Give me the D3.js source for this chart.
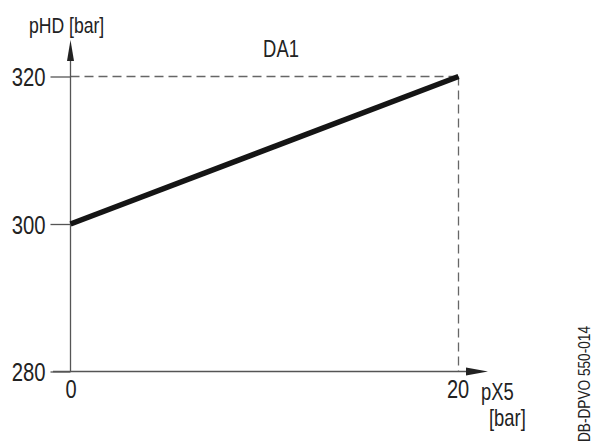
<!DOCTYPE html>
<html><head><meta charset="utf-8">
<script src="https://d3js.org/d3.v7.min.js"></script>
<style>
html,body{margin:0;padding:0;background:#fff;}
svg{display:block;}
text{font-family:"Liberation Sans",Arial,sans-serif;fill:#222;}
</style></head>
<body><svg id="c" width="595" height="446"></svg>
<script>
const xTicks = [0, 20];
const yTicks = [280, 300, 320];
const seriesX = [0, 20];
const seriesY = [300, 320];
const curveLabel = "DA1";
const yLabel = "pHD [bar]";
const xLabel1 = "pX5";
const xLabel2 = "[bar]";
const docId = "DB-DPVO 550-014";

const svg = d3.select("#c");
const x = d3.scaleLinear().domain([0, 20]).range([70.5, 458.5]);
const y = d3.scaleLinear().domain([280, 320]).range([371.5, 76.5]);
const axisCol = "#555";

// horizontally condense a text around its anchor x
function condense(sel, k) {
  sel.each(function () {
    const t = d3.select(this);
    const ax = +(t.attr("x") || 0);
    const prev = t.attr("transform") || "";
    t.attr("transform", `${prev} translate(${ax},0) scale(${k},1) translate(${-ax},0)`);
  });
}

// dashed guides
svg.append("line").attr("x1", x(0)).attr("x2", x(20)).attr("y1", y(320)).attr("y2", y(320))
  .attr("stroke", "#666").attr("stroke-width", 1.3).attr("stroke-dasharray", "9,5");
svg.append("line").attr("x1", x(20)).attr("x2", x(20)).attr("y1", y(320)).attr("y2", y(280))
  .attr("stroke", "#666").attr("stroke-width", 1.3).attr("stroke-dasharray", "9,5");

// y axis with ticks
const yAxis = d3.axisLeft(y).tickValues(yTicks).tickSize(20).tickPadding(5).tickFormat(d3.format("d"));
const gy = svg.append("g").attr("transform", `translate(${x(0)},0)`).call(yAxis);
gy.select(".domain").remove();
gy.selectAll(".tick line").attr("stroke", axisCol).attr("stroke-width", 1.3);
gy.selectAll(".tick text").attr("font-size", 26).attr("fill", "#222").attr("dy", "0.36em")
  .attr("font-family", '"Liberation Sans",Arial,sans-serif');
condense(gy.selectAll(".tick text"), 0.78);
svg.append("line").attr("x1", x(0)).attr("x2", x(0)).attr("y1", 58).attr("y2", y(280))
  .attr("stroke", axisCol).attr("stroke-width", 1.3);
svg.append("path").attr("d", `M${x(0)},40 L${x(0)-3.5},61 L${x(0)+3.5},61 Z`).attr("fill", "#222");

// x axis
const xAxis = d3.axisBottom(x).tickValues(xTicks).tickSize(0).tickPadding(9).tickFormat(d3.format("d"));
const gx = svg.append("g").attr("transform", `translate(0,${y(280)})`).call(xAxis);
gx.select(".domain").remove();
gx.selectAll(".tick text").attr("font-size", 25).attr("fill", "#222")
  .attr("font-family", '"Liberation Sans",Arial,sans-serif');
gx.selectAll(".tick").filter(d => d === 20).select("text").attr("x", -1);
condense(gx.selectAll(".tick text"), 0.8);
svg.append("line").attr("x1", 53).attr("x2", 468).attr("y1", y(280)).attr("y2", y(280))
  .attr("stroke", axisCol).attr("stroke-width", 1.3);
svg.append("path").attr("d", `M488,${y(280)} L466,${y(280)-4} L466,${y(280)+4} Z`).attr("fill", "#222");

// series line
const line = d3.line().x(d => x(d[0])).y(d => y(d[1]));
svg.append("path").datum(d3.zip(seriesX, seriesY)).attr("d", line)
  .attr("fill", "none").attr("stroke", "#151515").attr("stroke-width", 5.5).attr("stroke-linecap", "butt");

// labels
const lab = [];
lab.push(svg.append("text").attr("x", 29).attr("y", 33).attr("font-size", 22).text(yLabel));
lab.push(svg.append("text").attr("x", 281).attr("y", 57).attr("text-anchor", "middle").attr("font-size", 23).text(curveLabel));
lab.push(svg.append("text").attr("x", 481).attr("y", 400).attr("font-size", 23).text(xLabel1));
lab.push(svg.append("text").attr("x", 489).attr("y", 426).attr("font-size", 23).text(xLabel2));
lab.forEach(s => condense(s, 0.8));
svg.append("text").attr("transform", "translate(590,442) rotate(-90)").attr("font-size", 16)
  .attr("textLength", 116).attr("lengthAdjust", "spacingAndGlyphs").text(docId);
</script></body></html>
